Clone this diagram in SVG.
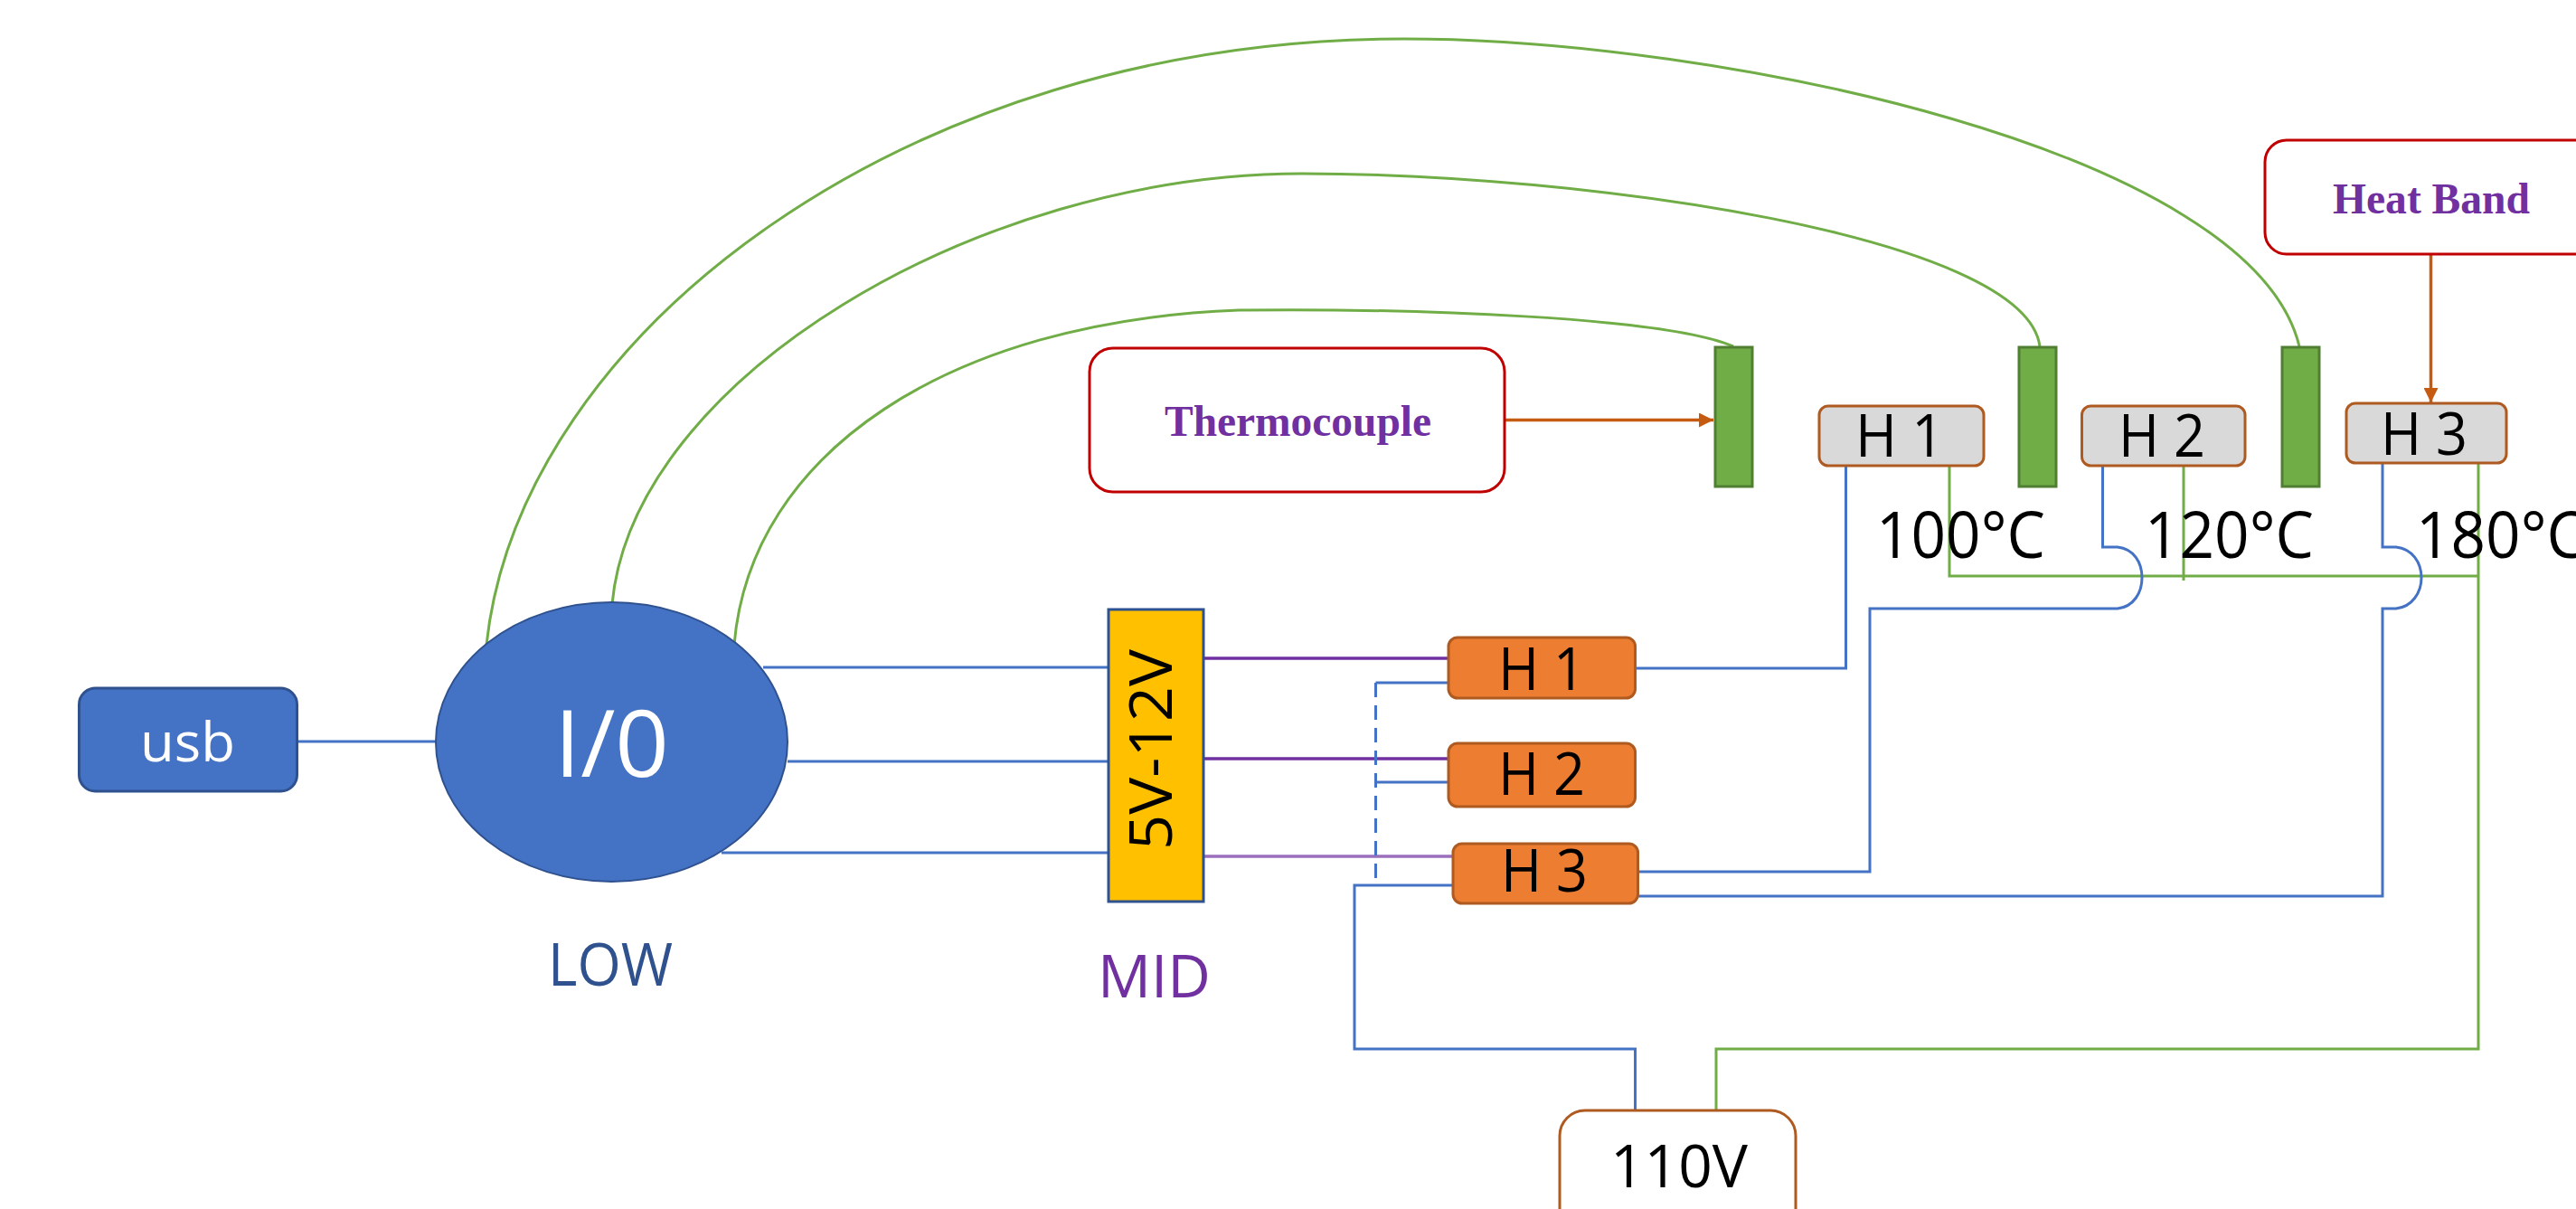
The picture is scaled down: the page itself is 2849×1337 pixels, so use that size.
<svg xmlns="http://www.w3.org/2000/svg" width="2849" height="1337" viewBox="0 0 2849 1337">
<style>
.t{font-family:"Open Sans","Noto Sans",sans-serif;fill:#000;font-size:66px}
.w{fill:#fff}
.s{font-family:"Liberation Serif",serif;font-weight:bold;font-size:48px;fill:#7030A0}
.b{fill:none;stroke:#4472C4;stroke-width:3}
.g{fill:none;stroke:#70AD47;stroke-width:3}
.p{fill:none;stroke:#7030A0;stroke-width:3.5}
.o{fill:none;stroke:#C55A11;stroke-width:3.5}
.hg{fill:#D9D9D9;stroke:#AE5A21;stroke-width:3}
.ho{fill:#ED7D31;stroke:#AE5A21;stroke-width:3}
.tc{fill:#70AD47;stroke:#507E32;stroke-width:3}
.rb{fill:#fff;stroke:#C00000;stroke-width:3}
</style>
<defs>
<marker id="ah" markerUnits="userSpaceOnUse" markerWidth="16" markerHeight="16" refX="16" refY="8" orient="auto"><path d="M0 0L16 8L0 16Z" fill="#C55A11"/></marker>
</defs>
<g id="connectors">
<path class="g" d="M538 713C575 370 1000 43 1553 43C1900 43 2490 165 2543 383"/>
<path class="g" d="M677 668C700 420 1080 192 1440 192C1750 192 2240 260 2256 383"/>
<path class="g" d="M812 713C830 500 1050 355 1370 343C1560 341 1840 350 1917 383"/>
<path class="b" d="M329 820H482"/>
<path class="b" d="M844 738H1226"/>
<path class="b" d="M871 842H1226"/>
<path class="b" d="M798 943H1226"/>
<path class="p" d="M1331 728H1602"/>
<path class="p" d="M1331 839H1602"/>
<path class="p" d="M1331 947H1607" stroke-opacity="0.7"/>
<path class="b" d="M1602 755H1521.500"/>
<path class="b" d="M1521.500 755V979" stroke-dasharray="16 9"/>
<path class="b" d="M1521.500 865H1602"/>
<path class="b" d="M1607 979H1498V1160H1808.500V1227"/>
<path class="g" d="M1898 1227V1160H2741V513"/>
<path class="b" d="M1808 739H2041.500V515"/>
<path class="g" d="M2156 515V637H2741"/>
<path class="g" d="M2415 515V642"/>
<path class="b" d="M1811 964H2068V673H2342C2360 671 2369 655 2369 639C2369 622 2360 607 2342 605H2325.500V515"/>
<path class="b" d="M1811 991H2635V673H2650C2668 671 2678 655 2678 639C2678 622 2668 607 2650 605H2635V512"/>
<path class="o" d="M1665 464.500H1895" marker-end="url(#ah)"/>
<path class="o" d="M2688.500 281V445" marker-end="url(#ah)"/>
</g>
<g id="usb"><rect x="87.500" y="761" width="241" height="114" rx="18" fill="#4472C4" stroke="#2F528F" stroke-width="3"/><text class="t w" x="155" y="842" style="font-size:60px" textLength="105" lengthAdjust="spacingAndGlyphs">usb</text></g>
<g id="io"><ellipse cx="676.500" cy="820.500" rx="194.500" ry="154.500" fill="#4472C4" stroke="#2F528F" stroke-width="2"/><text class="t w" x="613" y="859" style="font-size:102px" textLength="127" lengthAdjust="spacingAndGlyphs">I/0</text></g>
<g id="low"><text class="t" x="606" y="1090" style="fill:#2F528F" textLength="138" lengthAdjust="spacingAndGlyphs">LOW</text></g>
<g id="reg"><rect x="1226" y="674" width="105" height="323" fill="#FFC000" stroke="#2F528F" stroke-width="3"/><text class="t" transform="translate(1296 829) rotate(-90)" x="-111" y="0" textLength="222" lengthAdjust="spacingAndGlyphs">5V-12V</text></g>
<g id="mid"><text class="t" x="1214" y="1103" style="fill:#7030A0" textLength="125" lengthAdjust="spacingAndGlyphs">MID</text></g>
<g id="thermocouple"><rect class="rb" x="1205" y="385" width="459" height="159" rx="26"/><text class="s" x="1288" y="482" textLength="295" lengthAdjust="spacingAndGlyphs">Thermocouple</text></g>
<g id="heatband"><rect class="rb" x="2505" y="155" width="390" height="126" rx="24"/><text class="s" x="2580" y="236" textLength="218" lengthAdjust="spacingAndGlyphs">Heat Band</text></g>
<g id="tc1"><rect class="tc" x="1897" y="384" width="41" height="154"/></g>
<g id="tc2"><rect class="tc" x="2233" y="384" width="41" height="154"/></g>
<g id="tc3"><rect class="tc" x="2524" y="384" width="41" height="154"/></g>
<g id="h1top"><rect class="hg" x="2012" y="449" width="182" height="66" rx="10"/><text class="t" x="2052" y="505" textLength="98" lengthAdjust="spacingAndGlyphs">H 1</text></g>
<g id="h2top"><rect class="hg" x="2302.500" y="449" width="180.500" height="66" rx="10"/><text class="t" x="2343" y="505" textLength="96" lengthAdjust="spacingAndGlyphs">H 2</text></g>
<g id="h3top"><rect class="hg" x="2595" y="446" width="177" height="66" rx="10"/><text class="t" x="2633" y="503" textLength="96" lengthAdjust="spacingAndGlyphs">H 3</text></g>
<g id="h1"><rect class="ho" x="1602" y="705" width="206.500" height="67" rx="10"/><text class="t" x="1657" y="763" textLength="96" lengthAdjust="spacingAndGlyphs">H 1</text></g>
<g id="h2"><rect class="ho" x="1602" y="822" width="206.500" height="70" rx="10"/><text class="t" x="1657" y="879" textLength="96" lengthAdjust="spacingAndGlyphs">H 2</text></g>
<g id="h3"><rect class="ho" x="1607" y="933" width="204.500" height="66" rx="10"/><text class="t" x="1660" y="986" textLength="96" lengthAdjust="spacingAndGlyphs">H 3</text></g>
<g id="t100"><text class="t" x="2075" y="617" style="font-size:72px" textLength="187" lengthAdjust="spacingAndGlyphs">100°C</text></g>
<g id="t120"><text class="t" x="2372" y="617" style="font-size:72px" textLength="187" lengthAdjust="spacingAndGlyphs">120°C</text></g>
<g id="t180"><text class="t" x="2672" y="617" style="font-size:72px" textLength="187" lengthAdjust="spacingAndGlyphs">180°C</text></g>
<g id="v110"><rect x="1725" y="1228" width="261" height="180" rx="28" fill="#fff" stroke="#AE5A21" stroke-width="3"/><text class="t" x="1781" y="1313" textLength="152" lengthAdjust="spacingAndGlyphs">110V</text></g>
</svg>
